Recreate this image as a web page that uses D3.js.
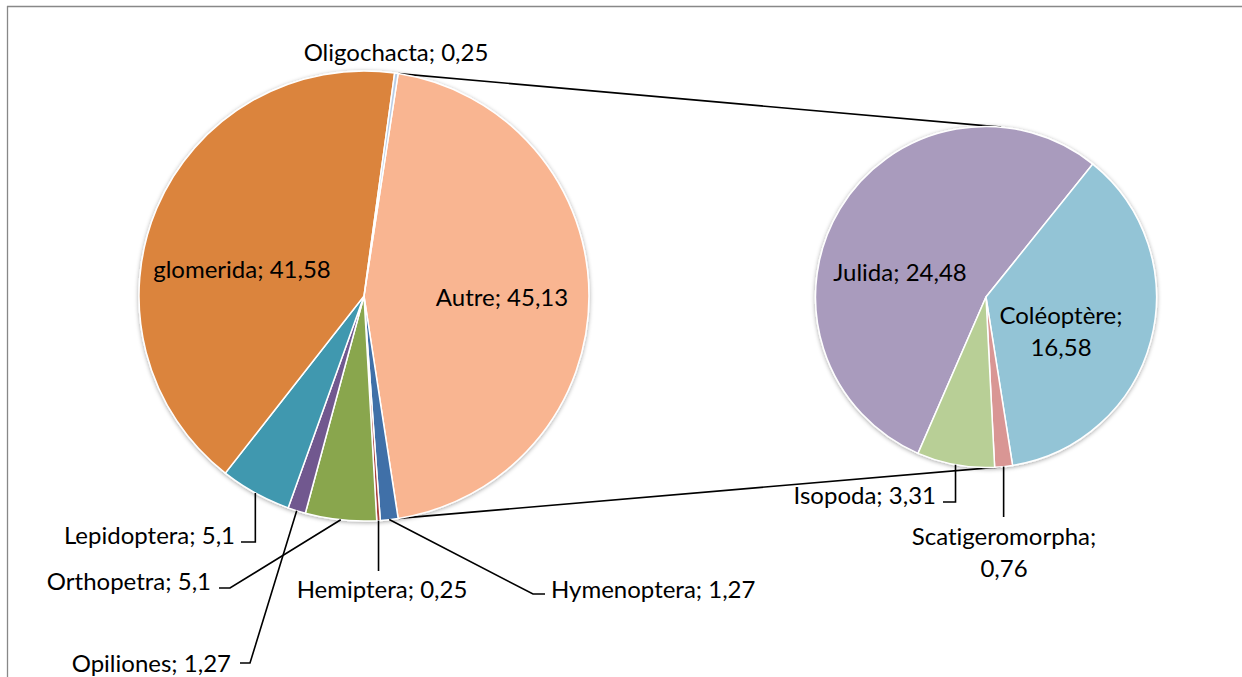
<!DOCTYPE html>
<html>
<head>
<meta charset="utf-8">
<script src="https://cdn.jsdelivr.net/npm/d3@7"></script>
<style>
  html, body { margin: 0; padding: 0; background: #fff; }
  svg { display: block; }
  text { font-family: Lato, "Open Sans", sans-serif; fill: #000; font-variant-ligatures: none; font-feature-settings: "liga" 0; }
</style>
</head>
<body>
<svg id="chart" width="1242" height="677"></svg>
<script>
// ---------- DATA ----------
const mainCategories = ["Autre", "Hymenoptera", "Hemiptera", "Orthopetra", "Opiliones", "Lepidoptera", "glomerida", "Oligochacta"];
const mainValues = [45.13, 1.27, 0.25, 5.1, 1.27, 5.1, 41.58, 0.25];
const subCategories = ["Julida", "Coléoptère", "Scatigeromorpha", "Isopoda"];
const subValues = [24.48, 16.58, 0.76, 3.31];

// ---------- STYLES ----------
const mainColors = {
  "Autre": "#F9B591", "Hymenoptera": "#3F70A8", "Hemiptera": "#AA403D", "Orthopetra": "#89A64E",
  "Opiliones": "#71588F", "Lepidoptera": "#4198AF", "glomerida": "#DB843D", "Oligochacta": "#B9CDE5"
};
const subColors = { "Julida": "#A99BBD", "Coléoptère": "#93C4D6", "Scatigeromorpha": "#D99694", "Isopoda": "#B8CF96" };

const fontSize = 24;
const lineW = 1.6;
const fmt = v => String(v).replace(".", ",");

// ---------- LAYOUT ----------
const W = 1242, H = 677;
const main = { cx: 364, cy: 296, r: 225 };
const sub = { cx: 986, cy: 297, r: 170.5 };

const svg = d3.select("#chart");
const defs = svg.append("defs");
const f = defs.append("filter").attr("id", "shadow").attr("x", "-10%").attr("y", "-10%").attr("width", "120%").attr("height", "120%");
f.append("feDropShadow").attr("dx", 0).attr("dy", 1).attr("stdDeviation", 2).attr("flood-color", "#000").attr("flood-opacity", 0.35);

// frame
svg.append("line").attr("x1", 7).attr("y1", 6.5).attr("x2", W).attr("y2", 6.5).attr("stroke", "#888").attr("stroke-width", 1.3);
svg.append("line").attr("x1", 7.5).attr("y1", 6).attr("x2", 7.5).attr("y2", H).attr("stroke", "#888").attr("stroke-width", 1.3);

// main pie: "Autre" bisected by the horizontal on the right side
const mainTotal = d3.sum(mainValues);
const autreAngle = mainValues[0] / mainTotal * 2 * Math.PI;
const mainStart = Math.PI / 2 - autreAngle / 2;
const mainPie = d3.pie().sort(null).value(d => d.v).startAngle(mainStart).endAngle(mainStart + 2 * Math.PI);
const mainArcs = mainPie(mainCategories.map((c, i) => ({ c, v: mainValues[i] })));

const subStart = 203.5 * Math.PI / 180;
const subPie = d3.pie().sort(null).value(d => d.v).startAngle(subStart).endAngle(subStart + 2 * Math.PI);
const subArcs = subPie(subCategories.map((c, i) => ({ c, v: subValues[i] })));

const mainArc = d3.arc().innerRadius(0).outerRadius(main.r);
const subArc = d3.arc().innerRadius(0).outerRadius(sub.r);

const polar = (p, a, r) => [p.cx + r * Math.sin(a), p.cy - r * Math.cos(a)];

// connectors (tangent lines from Autre's edges to the secondary pie)
function tangent(pt, upper) {
  const dx = pt[0] - sub.cx, dy = pt[1] - sub.cy;
  const d = Math.hypot(dx, dy);
  const base = Math.atan2(dx, -dy);
  const th = Math.acos(sub.r / d);
  const p1 = polar(sub, base + th, sub.r), p2 = polar(sub, base - th, sub.r);
  return upper ? (p1[1] < p2[1] ? p1 : p2) : (p1[1] > p2[1] ? p1 : p2);
}
const autre = mainArcs[0];
const topPt = polar(main, autre.startAngle, main.r);
const botPt = polar(main, autre.endAngle, main.r);
[[topPt, tangent(topPt, true)], [botPt, tangent(botPt, false)]].forEach(([a, b]) => {
  svg.append("line").attr("x1", a[0]).attr("y1", a[1]).attr("x2", b[0]).attr("y2", b[1])
    .attr("stroke", "#000").attr("stroke-width", lineW);
});

// pies
const gMain = svg.append("g").attr("transform", `translate(${main.cx},${main.cy})`).attr("filter", "url(#shadow)");
gMain.selectAll("path").data(mainArcs).join("path")
  .attr("d", mainArc).attr("fill", d => mainColors[d.data.c]).attr("stroke", "#fff").attr("stroke-width", 1.5);
const gSub = svg.append("g").attr("transform", `translate(${sub.cx},${sub.cy})`).attr("filter", "url(#shadow)");
gSub.selectAll("path").data(subArcs).join("path")
  .attr("d", subArc).attr("fill", d => subColors[d.data.c]).attr("stroke", "#fff").attr("stroke-width", 1.5);

// label layout (positions only)
const labelLayout = {
  "Autre": { x: 502, y: 306, anchor: "middle" },
  "glomerida": { x: 242, y: 278, anchor: "middle" },
  "Oligochacta": { x: 396, y: 61, anchor: "middle" },
  "Lepidoptera": { x: 235, y: 544, anchor: "end", path: s => [[s[0], 542], [241, 542]] },
  "Orthopetra": { x: 211, y: 590, anchor: "end", path: s => [[230, 588], [219, 588]] },
  "Opiliones": { x: 231, y: 672, anchor: "end", path: s => [[250, 663], [240, 663]] },
  "Hemiptera": { x: 382, y: 598, anchor: "middle", path: s => [[s[0], 571]] },
  "Hymenoptera": { x: 551, y: 598, anchor: "start", path: s => [[533, 594], [545, 594]] },
  "Julida": { x: 900, y: 281, anchor: "middle" },
  "Coléoptère": { x: 1061, y: 324, anchor: "middle", lines: 2, dy: 32 },
  "Isopoda": { x: 936, y: 504, anchor: "end", path: s => [[s[0], 502], [943, 502]] },
  "Scatigeromorpha": { x: 1004, y: 545, anchor: "middle", lines: 2, dy: 32, path: s => [[s[0], 517]] }
};

function drawLabels(arcs, p) {
  arcs.forEach(d => {
    const L = labelLayout[d.data.c];
    if (!L) return;
    const mid = (d.startAngle + d.endAngle) / 2;
    if (L.path) {
      const s = polar(p, mid, p.r);
      const pts = [s].concat(L.path(s));
      svg.append("path").attr("d", d3.line()(pts)).attr("fill", "none").attr("stroke", "#000").attr("stroke-width", lineW);
    }
    const t = svg.append("text").attr("x", L.x).attr("y", L.y).attr("text-anchor", L.anchor).attr("font-size", fontSize);
    if (L.lines === 2) {
      t.append("tspan").attr("x", L.x).text(d.data.c + ";");
      t.append("tspan").attr("x", L.x).attr("dy", L.dy).text(fmt(d.data.v));
    } else {
      t.text(d.data.c + "; " + fmt(d.data.v));
    }
  });
}
drawLabels(mainArcs, main);
drawLabels(subArcs, sub);
</script>
</body>
</html>
